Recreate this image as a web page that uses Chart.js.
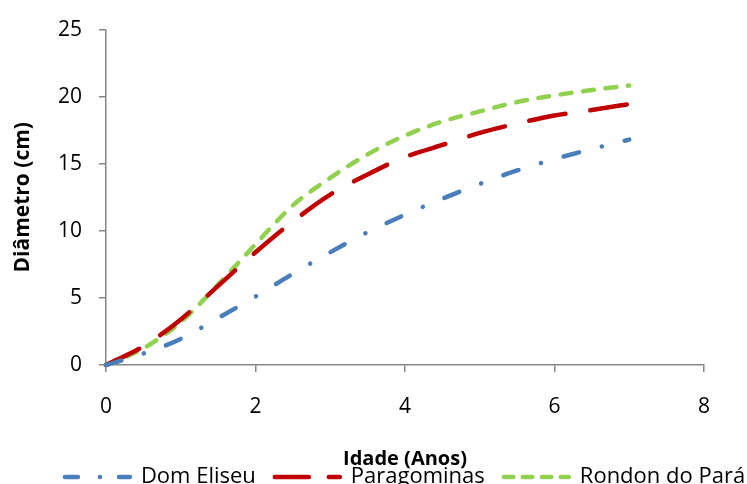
<!DOCTYPE html>
<html>
<head>
<meta charset="utf-8">
<script src="https://cdn.jsdelivr.net/npm/chart.js@4"></script>
<style>
  html, body { margin: 0; padding: 0; background: #fff; }
  #c { display: block; }
</style>
</head>
<body>
<canvas id="c" width="747" height="484"></canvas>
<script>
// ---- Data ----
const ages = [0, 0.5, 1, 1.5, 2, 2.5, 3, 3.5, 4, 4.5, 5, 5.5, 6, 6.5, 7];
const domEliseu   = [0, 0.85, 1.95, 3.5, 5.1, 6.8, 8.4, 9.9, 11.2, 12.4, 13.5, 14.5, 15.35, 16.1, 16.8];
const paragominas = [0, 1.39, 3.4, 5.9, 8.4, 10.7, 12.7, 14.2, 15.5, 16.4, 17.3, 18.0, 18.6, 19.0, 19.45];
const rondonDoPara = [0, 1.24, 3.2, 6.0, 9.0, 11.9, 13.95, 15.7, 17.1, 18.15, 18.9, 19.6, 20.1, 20.5, 20.83];
const seriesNames = ['Dom Eliseu', 'Paragominas', 'Rondon do Pará'];
const xTitle = 'Idade (Anos)';
const yTitle = 'Diâmetro (cm)';
const xTickRange = { min: 0, max: 8, step: 2 };
const yTickRange = { min: 0, max: 25, step: 5 };

const toPts = arr => arr.map((v, i) => ({ x: ages[i], y: v }));
const FONT = "'Open Sans', 'Noto Sans', sans-serif";
const AXIS = '#868686';
// dash patterns used for the short legend samples
const legendDashes = [[13, 22, 0.1, 19], [34, 20], [9.5, 9.5]];

const legendShift = {
  id: 'legendShift',
  afterLayout(chart) {
    const lg = chart.legend, ca = chart.chartArea;
    if (!lg || !ca) return;
    const d = (ca.left + ca.right) / 2 - (lg.left + lg.right) / 2;
    lg.left += d; lg.right += d;
  }
};

new Chart(document.getElementById('c'), {
  type: 'line',
  data: {
    datasets: [
      {
        label: seriesNames[0], data: toPts(domEliseu),
        borderColor: '#4A7EBB', borderWidth: 4.5,
        borderDash: [16, 23.5, 0.1, 23.5], borderCapStyle: 'round'
      },
      {
        label: seriesNames[1], data: toPts(paragominas),
        borderColor: '#C00000', borderWidth: 4.5,
        borderDash: [37, 25], borderCapStyle: 'round'
      },
      {
        label: seriesNames[2], data: toPts(rondonDoPara),
        borderColor: '#92D050', borderWidth: 4.5,
        borderDash: [11, 11.6], borderCapStyle: 'round'
      }
    ]
  },
  options: {
    responsive: false,
    animation: false,
    devicePixelRatio: 1,
    layout: { padding: { left: 0, right: 0, top: 23, bottom: 0 } },
    elements: {
      point: { radius: 0, hoverRadius: 0 },
      line: { cubicInterpolationMode: 'monotone', fill: false }
    },
    datasets: { line: { clip: false } },
    plugins: {
      tooltip: { enabled: false },
      legend: {
        position: 'bottom',
        maxHeight: 37,
        labels: {
          usePointStyle: true,
          pointStyle: 'line',
          pointStyleWidth: 65,
          padding: 19,
          color: '#000',
          font: { family: FONT, size: 22 },
          generateLabels(chart) {
            const items = Chart.defaults.plugins.legend.labels.generateLabels(chart);
            items.forEach(it => {
              const ds = chart.data.datasets[it.datasetIndex];
              it.lineDash = legendDashes[it.datasetIndex];
              it.lineDashOffset = 0;
              it.lineCap = ds.borderCapStyle;
              it.strokeStyle = ds.borderColor;
              it.lineWidth = ds.borderWidth;
              it.pointStyle = 'line';
            });
            return items;
          }
        }
      }
    },
    scales: {
      x: {
        type: 'linear',
        min: xTickRange.min, max: xTickRange.max,
        afterFit(s) { s.height = 82; s.paddingRight = 43; },
        ticks: { stepSize: xTickRange.step, padding: 22, color: '#000', font: { family: FONT, size: 21 } },
        grid: { display: true, drawOnChartArea: false, drawTicks: true, tickLength: 7, color: AXIS, lineWidth: 1.5 },
        border: { display: true, color: AXIS, width: 1.5 },
        title: {
          display: true, text: xTitle, color: '#000',
          font: { family: FONT, size: 20, weight: 'bold' },
          padding: { top: 0, bottom: -24.5 }
        }
      },
      y: {
        min: yTickRange.min, max: yTickRange.max,
        afterFit(s) { s.width = 106; },
        ticks: { stepSize: yTickRange.step, padding: 17, color: '#000', font: { family: FONT, size: 21 } },
        grid: { display: true, drawOnChartArea: false, drawTicks: true, tickLength: 7, color: AXIS, lineWidth: 1.5 },
        border: { display: true, color: AXIS, width: 1.5 },
        title: {
          display: true, text: yTitle, color: '#000',
          font: { family: FONT, size: 21, weight: 'bold' },
          padding: { top: 10, bottom: 0 }
        }
      }
    }
  },
  plugins: [legendShift]
});
</script>
</body>
</html>
